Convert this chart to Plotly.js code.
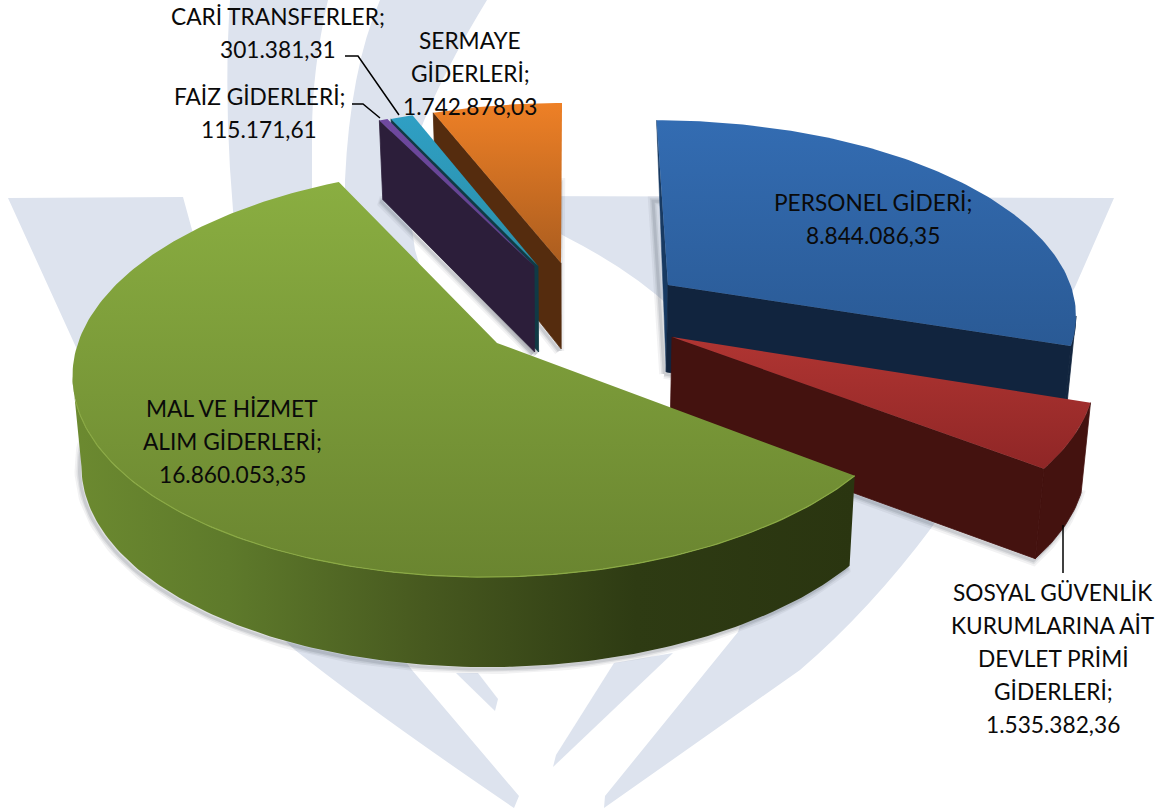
<!DOCTYPE html>
<html><head><meta charset="utf-8">
<script src="https://cdn.plot.ly/plotly-3.0.1.min.js"></script>
<style>html,body{margin:0;padding:0;background:#fff}#c{width:1170px;height:809px}</style>
</head><body><div id="c"></div>
<script>
// ---------- data ----------
const categories = ["PERSONEL GİDERİ","SOSYAL GÜVENLİK KURUMLARINA AİT DEVLET PRİMİ GİDERLERİ","MAL VE HİZMET ALIM GİDERLERİ","FAİZ GİDERLERİ","CARİ TRANSFERLER","SERMAYE GİDERLERİ"];
const values = [8844086.35,1535382.36,16860053.35,115171.61,301381.31,1742878.03];
const labelLines = [["PERSONEL GİDERİ;"],["SOSYAL GÜVENLİK","KURUMLARINA AİT","DEVLET PRİMİ","GİDERLERİ;"],["MAL VE HİZMET","ALIM GİDERLERİ;"],["FAİZ GİDERLERİ;"],["CARİ TRANSFERLER;"],["SERMAYE","GİDERLERİ;"]];

// ---------- styling / placement ----------
const labelPos = [[873,202],[1053,592],[232,408],[259,96],[278,16],[470,40]];
const lineGap = 33;
const topColors = [["#336cb2","#2a5a95"],["#b03532","#8f2626"],["#8aae41","#6a8530"],["#7049a0","#5e3f88"],["#2f9fc4","#2a8fa8"],["#ee8026","#ab5d1f"]];
const wallColors = ["#11243e","#44120f","#3a4a1a","#2c1e3a","#103a45","#552c0e"];
const apexPix = [[668,285],[672,337],[497,343],[534,266],[538,266],[561,263]];
const drawOrder = [0,5,4,3,1,2];
const FONT = "Lato, Carlito, Calibri, sans-serif";

// perspective model of the pie plane
const K=0.137, B=202, A=419, XV=570, YO=343;
const proj=(X,Y)=>{const w=1-K*Y;return [XV+X/w, YO+B*Y/w];};
const unproj=(x,y)=>{const Y=(y-YO)/(B+K*(y-YO));return [(x-XV)*(1-K*Y),Y];};
const drop=p=>[XV+(p[0]-XV)*0.982, p[1]+Math.min(90,79+0.048*(p[1]-120))];

const total=values.reduce((a,b)=>a+b,0);
let acc=0;
const slices=values.map((v,i)=>{
  const a0=acc/total*2*Math.PI; acc+=v; const a1=acc/total*2*Math.PI;
  const [ax,ay]=unproj(apexPix[i][0],apexPix[i][1]);
  const n=Math.max(2,Math.ceil((a1-a0)/(Math.PI/180)));
  const arc=[];
  for(let j=0;j<=n;j++){const t=a0+(a1-a0)*j/n;arc.push(proj(ax+A*Math.sin(t),ay-Math.cos(t)));}
  return {i,apex:proj(ax,ay),arc};
});

const traces=[];
function poly(pts,opt){
  const xs=pts.map(p=>p[0]),ys=pts.map(p=>p[1]);
  xs.push(xs[0]);ys.push(ys[0]);
  traces.push(Object.assign({type:"scatter",mode:"lines",x:xs,y:ys,fill:"toself",line:{width:0},hoverinfo:"skip",showlegend:false},opt));
}
const vgrad=(pts,c)=>{const ys=pts.map(p=>p[1]);return {type:"vertical",start:Math.min(...ys),stop:Math.max(...ys),colorscale:[[0,c[0]],[1,c[1]]]};};

drawOrder.forEach(i=>{
  const s=slices[i], name=categories[i], c=wallColors[i];
  const botApex=drop(s.apex), botArc=s.arc.map(drop);
  const solid={width:0.8,color:c};
  // soft shadow around the foot of the slice
  const foot=[botApex,...botArc,botApex].map(p=>[p[0]-2,p[1]+2]);
  [[10,0.07],[6,0.10],[3,0.14]].forEach(([w,o])=>{
    traces.push({type:"scatter",mode:"lines",x:foot.map(p=>p[0]),y:foot.map(p=>p[1]),line:{width:w,color:"rgba(70,75,90,"+o+")"},hoverinfo:"skip",showlegend:false,name});
  });
  const first=s.arc[0], last=s.arc[s.arc.length-1];
  // outer wall: only the stretch of the rim that faces the viewer
  if(i<=2){
    const xs=s.arc.map(p=>p[0]);
    const from=xs.indexOf(Math.max(...xs));
    const to=i===2?xs.indexOf(Math.min(...xs)):xs.length-1;
    const topRim=s.arc.slice(from,to+1);
    const wall=[...topRim,...topRim.map(drop).reverse()];
    const wo={name,fillcolor:c,line:solid};
    if(i===2){wo.line={width:0};wo.fillgradient={type:"horizontal",start:72,stop:855,colorscale:[[0,"#6c8a30"],[0.2,"#5e7a2b"],[0.45,"#47591f"],[0.72,"#2e3b13"],[1,"#2a3510"]]};}
    poly(wall,wo);
  }
  // radial cut faces that can be seen
  if(i===0) poly([s.apex,first,botApex],{name,fillcolor:"#183a62",line:{width:0.5,color:"#183a62"}});
  if(i===0||i===1) poly([s.apex,last,drop(last),botApex],{name,fillcolor:c,line:solid});
  if(i>=3) poly([s.apex,first,drop(first),botApex],{name,fillcolor:c,line:solid});
  // top face
  const top=[s.apex,...s.arc];
  poly(top,{name,fillgradient:vgrad(top,topColors[i])});
  if(i===2){
    const rim=s.arc.filter(p=>p[1]>400);
    traces.push({type:"scatter",mode:"lines",x:rim.map(p=>p[0]),y:rim.map(p=>p[1]),line:{width:1.2,color:"#8aa944"},hoverinfo:"skip",showlegend:false,name});
  }
});

// labels
const fmt=v=>{const [a,b]=v.toFixed(2).split(".");return a.replace(/\B(?=(\d{3})+$)/g,".")+","+b;};
const annotations=[];
labelLines.forEach((ls,i)=>{
  [...ls,fmt(values[i])].forEach((t,j)=>annotations.push({text:t,xref:"x",yref:"y",x:labelPos[i][0],y:labelPos[i][1]+j*lineGap,showarrow:false,xanchor:"center",yanchor:"middle",font:{family:FONT,size:22.7,color:"#0a0a0a"}}));
});

// watermark and leader lines
const WM="#dde3ee";
const wm=d=>({type:"path",path:d,xref:"x",yref:"y",fillcolor:WM,line:{width:0},layer:"below"});
const leader=d=>({type:"path",path:d,xref:"x",yref:"y",line:{color:"#000",width:1.5},layer:"above"});
const shapes=[
  wm("M8,198 L183,197 Q255,470 412,670 L519,796 L514,808 Q370,710 295,650 Q150,520 75,345 Z"),
  wm("M456,673 L478,673 L498,699 L495,711 Z"),
  wm("M614,663 L673,653 L553,767 L556,755 Z"),
  wm("M500,196 L1114,198 L1075,287 L932,527 Q870,610 800,670 L604,808 L605,796 L738,632 Q790,480 720,370 Q680,295 566,237 L500,200 Z"),
  wm("M230,0 L328,0 Q312,70 312,133 L312,260 L238,260 Q222,120 230,0 Z"),
  wm("M380,0 L487,0 Q420,110 405,180 L415,250 L430,300 L345,300 L345,180 Q350,70 380,0 Z"),
  leader("M345,56 L358,56 L399,115"),
  leader("M352,104 L363,104 L380,118"),
  leader("M1063,525 L1063,573")
];

Plotly.newPlot("c",traces,{
  width:1170,height:809,margin:{l:0,r:0,t:0,b:0},
  paper_bgcolor:"#fff",plot_bgcolor:"#fff",showlegend:false,
  xaxis:{range:[0,1170],visible:false,fixedrange:true},
  yaxis:{range:[809,0],visible:false,fixedrange:true},
  annotations,shapes
},{displayModeBar:false,staticPlot:true});
</script></body></html>
